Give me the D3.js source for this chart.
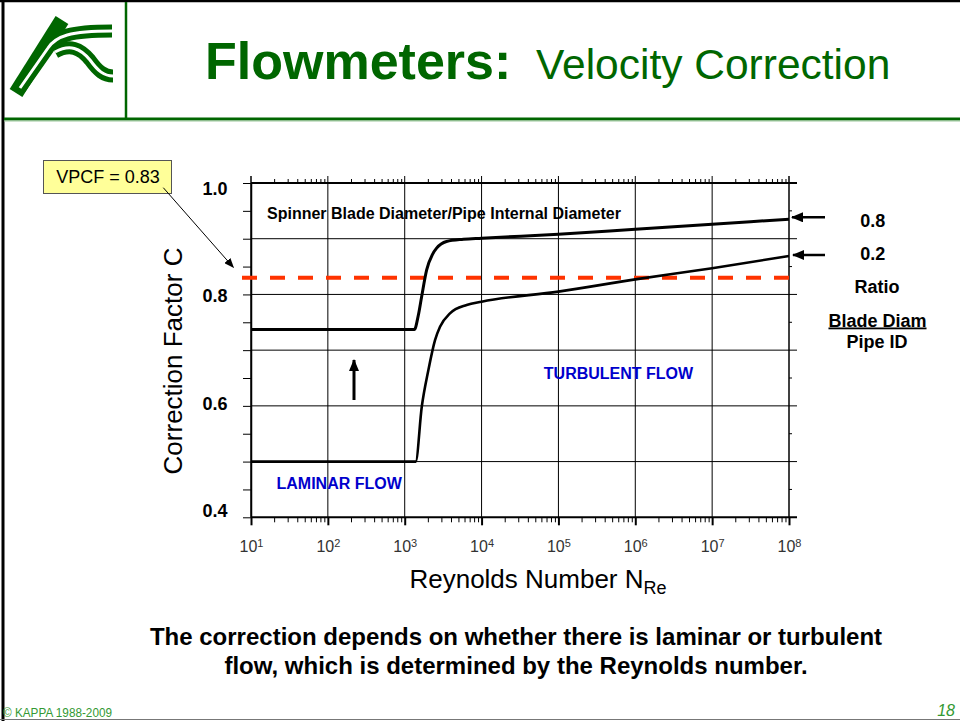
<!DOCTYPE html>
<html>
<head>
<meta charset="utf-8">
<script src="https://d3js.org/d3.v7.min.js"></script>
<style>
  body { margin: 0; background: #fff; }
  text { font-family: Arial, "Liberation Sans", sans-serif; }
</style>
</head>
<body>
<div id="chart"></div>
<script>
// data
const reynoldsTicks = [1e1, 1e2, 1e3, 1e4, 1e5, 1e6, 1e7, 1e8];
const tickExponents = ["1", "2", "3", "4", "5", "6", "7", "8"];
const factorTicks = [0.4, 0.6, 0.8, 1.0];

// blade diameter / pipe ID = 0.8
const ratio08Re = [10, 1334, 1500, 1660, 1930, 2300, 2600, 3500, 5800, 1e4, 1e5, 1e6, 1e7, 1e8];
const ratio08C  = [0.737, 0.737, 0.762, 0.796, 0.844, 0.872, 0.883, 0.895, 0.899, 0.901, 0.908, 0.917, 0.926, 0.935];
// blade diameter / pipe ID = 0.2
const ratio02Re = [10, 1390, 1665, 2030, 2480, 2880, 3880, 6400, 1e4, 1e5, 1e6, 1e7, 1e8];
const ratio02C  = [0.5, 0.5, 0.598, 0.664, 0.718, 0.742, 0.766, 0.781, 0.787, 0.805, 0.827, 0.847, 0.869];
const vpcf = 0.83;

const width = 960, height = 721;
const green = "#006600";

const svg = d3.select("#chart").append("svg")
  .attr("width", width)
  .attr("height", height);

// markers
const defs = svg.append("defs");
defs.append("marker").attr("id", "headBig")
  .attr("markerUnits", "userSpaceOnUse")
  .attr("viewBox", "0 0 12 10").attr("refX", 11).attr("refY", 5)
  .attr("markerWidth", 12).attr("markerHeight", 10).attr("orient", "auto")
  .append("path").attr("d", "M0,0 L12,5 L0,10 Z").attr("fill", "#000");
defs.append("marker").attr("id", "headSmall")
  .attr("markerUnits", "userSpaceOnUse")
  .attr("viewBox", "0 0 10 8").attr("refX", 9).attr("refY", 4)
  .attr("markerWidth", 10).attr("markerHeight", 8).attr("orient", "auto")
  .append("path").attr("d", "M0,0 L10,4 L0,8 Z").attr("fill", "#000");

// ---- slide frame ----
svg.append("line").attr("x1", 0).attr("x2", width).attr("y1", 1).attr("y2", 1)
  .attr("stroke", "#000").attr("stroke-width", 2.5);
svg.append("line").attr("x1", 3).attr("x2", 3).attr("y1", 0).attr("y2", height)
  .attr("stroke", "#000").attr("stroke-width", 3);
svg.append("line").attr("x1", 0).attr("x2", width).attr("y1", 719.5).attr("y2", 719.5)
  .attr("stroke", "#777").attr("stroke-width", 1);
svg.append("line").attr("x1", 4).attr("x2", width).attr("y1", 119).attr("y2", 119)
  .attr("stroke", green).attr("stroke-width", 3);
svg.append("line").attr("x1", 4).attr("x2", width).attr("y1", 121).attr("y2", 121)
  .attr("stroke", "#9cc79c").attr("stroke-width", 1);
svg.append("line").attr("x1", 126).attr("x2", 126).attr("y1", 2).attr("y2", 119)
  .attr("stroke", green).attr("stroke-width", 2.5);

// logo
const logo = svg.append("g").attr("fill", "none").attr("stroke-linecap", "butt");
const logoPaths = [
  "M20,88 L48,48 C56,36 70,31 112,31",
  "M55,52 C70,44 80,48 90,60 C98,71 104,76 113,76"
];
logo.append("path").attr("d", "M16,93 L62,20").attr("stroke", green).attr("stroke-width", 15);
logoPaths.forEach(p => logo.append("path").attr("d", p).attr("stroke", green).attr("stroke-width", 13));
logoPaths.forEach(p => logo.append("path").attr("d", p).attr("stroke", "#fff").attr("stroke-width", 3));

// title
svg.append("text").attr("x", 205).attr("y", 79).attr("fill", green)
  .attr("font-size", 52).attr("font-weight", "bold").text("Flowmeters:");
svg.append("text").attr("x", 536).attr("y", 79).attr("fill", green)
  .attr("font-size", 42.5).text("Velocity Correction");

// ---- chart ----
const x = d3.scaleLog().domain([10, 1e8]).range([251, 789]);
const y = d3.scaleLinear().domain([0.4, 1.0]).range([517.3, 183]);
const labelY = d3.scaleLinear().domain([0.4, 1.0]).range([510.7, 188.3]);

const minorRe = reynoldsTicks.slice(0, -1).flatMap(d => d3.range(2, 10).map(k => k * d));
const yMajor = d3.range(4, 11).map(k => k / 10);
const yMinor = d3.range(4, 10).map(k => k / 10 + 0.05);

// horizontal grid (extends a little past the right edge)
svg.append("g").selectAll("line").data(yMajor).join("line")
  .attr("x1", x(10)).attr("x2", x(1e8) + 8)
  .attr("y1", d => y(d)).attr("y2", d => y(d))
  .attr("stroke", "#000")
  .attr("stroke-width", d => (d === 0.4 || d === 1.0) ? 2 : 1);

// vertical grid at every decade
svg.append("g").selectAll("line").data(reynoldsTicks).join("line")
  .attr("x1", d => x(d)).attr("x2", d => x(d))
  .attr("y1", y(1.0) - 7).attr("y2", y(0.4))
  .attr("stroke", "#000")
  .attr("stroke-width", (d, i) => (i === 0 || i === reynoldsTicks.length - 1) ? 1.5 : 1);

// right minor ticks
svg.append("g").selectAll("line").data(yMinor).join("line")
  .attr("x1", x(1e8)).attr("x2", x(1e8) + 3)
  .attr("y1", d => y(d)).attr("y2", d => y(d))
  .attr("stroke", "#000");

// left axis
const gLeft = svg.append("g")
  .attr("transform", `translate(${x(10)},0)`)
  .call(d3.axisLeft(y).tickValues(yMajor.concat(yMinor)).tickSize(8).tickSizeOuter(0).tickFormat(""));
gLeft.select(".domain").attr("stroke-width", 1.5);

svg.append("g").selectAll("text").data(factorTicks).join("text")
  .attr("x", 227.5).attr("y", d => labelY(d)).attr("dy", "0.36em")
  .attr("text-anchor", "end").attr("font-size", 18).attr("font-weight", "bold")
  .text(d => d3.format(".1f")(d));

// bottom axis
const gBottom = svg.append("g")
  .attr("transform", `translate(0,${y(0.4)})`)
  .call(d3.axisBottom(x).tickValues(reynoldsTicks).tickSize(8).tickSizeOuter(0).tickPadding(15).tickFormat(""));
gBottom.select(".domain").remove();
gBottom.selectAll(".tick line").attr("stroke-width", 2);
gBottom.selectAll(".tick text").each(function(d, i) {
  const t = d3.select(this).attr("font-size", 16).attr("fill", "#333")
    .attr("font-family", "Arial, 'Liberation Sans', sans-serif");
  t.append("tspan").text("10");
  t.append("tspan").attr("dy", "-0.45em").attr("font-size", 11).text(tickExponents[i]);
});
svg.append("g")
  .attr("transform", `translate(0,${y(0.4)})`)
  .call(d3.axisBottom(x).tickValues(minorRe).tickSize(5).tickSizeOuter(0).tickFormat(""))
  .select(".domain").remove();

// top axis minor ticks
svg.append("g")
  .attr("transform", `translate(0,${y(1.0)})`)
  .call(d3.axisTop(x).tickValues(minorRe).tickSize(4).tickSizeOuter(0).tickFormat(""))
  .select(".domain").remove();

// VPCF dashed line
svg.append("line")
  .attr("x1", x(10) - 9).attr("x2", x(1e8))
  .attr("y1", y(vpcf)).attr("y2", y(vpcf))
  .attr("stroke", "#ff3300").attr("stroke-width", 4)
  .attr("stroke-dasharray", "15,13");

// curves
const line = d3.line().x(d => x(d[0])).y(d => y(d[1])).curve(d3.curveMonotoneX);
svg.append("path").datum(d3.zip(ratio08Re, ratio08C))
  .attr("d", line).attr("fill", "none").attr("stroke", "#000").attr("stroke-width", 3);
svg.append("path").datum(d3.zip(ratio02Re, ratio02C))
  .attr("d", line).attr("fill", "none").attr("stroke", "#000").attr("stroke-width", 2.6);

// axis titles
svg.append("text")
  .attr("transform", "translate(182,361) rotate(-90)")
  .attr("text-anchor", "middle").attr("font-size", 26)
  .text("Correction Factor C");
const xt = svg.append("text").attr("x", 538).attr("y", 588)
  .attr("text-anchor", "middle").attr("font-size", 26);
xt.append("tspan").text("Reynolds Number N");
xt.append("tspan").attr("dy", 6).attr("font-size", 18).text("Re");

// in-plot labels
svg.append("text").attr("x", 267).attr("y", 219)
  .attr("font-size", 16).attr("font-weight", "bold")
  .text("Spinner Blade Diameter/Pipe Internal Diameter");
svg.append("text").attr("x", 618.5).attr("y", 379)
  .attr("text-anchor", "middle").attr("font-size", 16).attr("font-weight", "bold").attr("fill", "#0000cc")
  .text("TURBULENT FLOW");
svg.append("text").attr("x", 276.5).attr("y", 489)
  .attr("font-size", 16).attr("font-weight", "bold").attr("fill", "#0000cc")
  .text("LAMINAR FLOW");

// up arrow
svg.append("line").attr("x1", 354).attr("x2", 354).attr("y1", 400).attr("y2", 360)
  .attr("stroke", "#000").attr("stroke-width", 3).attr("marker-end", "url(#headBig)");

// right-hand arrows and ratio labels
[[217.3, 792], [255, 793]].forEach(([ay, ax]) => {
  svg.append("line").attr("x1", 825).attr("x2", ax).attr("y1", ay).attr("y2", ay)
    .attr("stroke", "#000").attr("stroke-width", 2.5).attr("marker-end", "url(#headBig)");
});
const rightLabels = [
  {t: "0.8", x: 872.7, y: 226.5},
  {t: "0.2", x: 872.7, y: 259.5},
  {t: "Ratio", x: 877, y: 292.5},
  {t: "Blade Diam", x: 877.5, y: 326.5, u: true},
  {t: "Pipe ID", x: 877, y: 348}
];
svg.append("g").selectAll("text").data(rightLabels).join("text")
  .attr("x", d => d.x).attr("y", d => d.y)
  .attr("text-anchor", "middle").attr("font-size", 18).attr("font-weight", "bold")
  .attr("text-decoration", d => d.u ? "underline" : null)
  .text(d => d.t);

// VPCF callout
svg.append("rect").attr("x", 43.5).attr("y", 160.5).attr("width", 128).attr("height", 33)
  .attr("fill", "#ffff99").attr("stroke", "#555").attr("stroke-width", 1);
svg.append("text").attr("x", 108).attr("y", 183.3)
  .attr("text-anchor", "middle").attr("font-size", 18)
  .text("VPCF = " + vpcf);
svg.append("line").attr("x1", 163.3).attr("y1", 187.7).attr("x2", 233.3).attr("y2", 267.3)
  .attr("stroke", "#000").attr("stroke-width", 1).attr("marker-end", "url(#headSmall)");

// caption
const caption = [
  "The correction depends on whether there is laminar or turbulent",
  "flow, which is determined by the Reynolds number."
];
svg.append("g").selectAll("text").data(caption).join("text")
  .attr("x", 516).attr("y", (d, i) => 644.5 + i * 29)
  .attr("text-anchor", "middle").attr("font-size", 24).attr("font-weight", "bold")
  .text(d => d);

// footer
svg.append("text").attr("x", 3).attr("y", 717)
  .attr("font-size", 13).attr("fill", "#339933")
  .attr("textLength", 109).attr("lengthAdjust", "spacingAndGlyphs")
  .text("© KAPPA 1988-2009");
svg.append("text").attr("x", 955).attr("y", 716)
  .attr("text-anchor", "end").attr("font-size", 16).attr("font-style", "italic").attr("fill", "#339933")
  .text("18");
</script>
</body>
</html>
